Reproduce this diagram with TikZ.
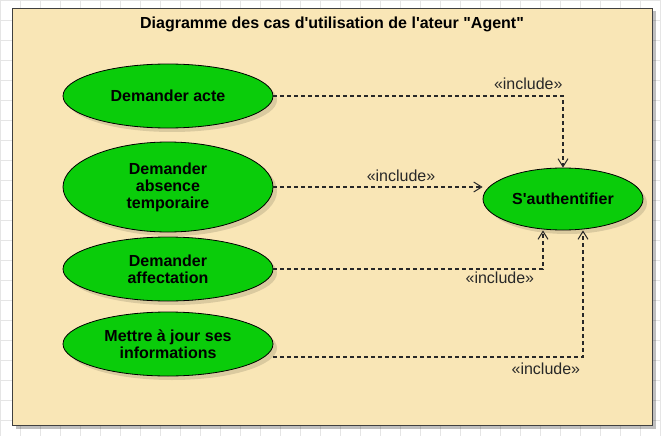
\documentclass[tikz,border=0pt]{standalone}
\usepackage{fontspec}
\setmainfont{Liberation Sans}[Ligatures=TeXOff]
\usetikzlibrary{arrows.meta,shadows,shapes.geometric}

\definecolor{cadre}{RGB}{249,230,182}
\definecolor{vert}{RGB}{10,204,10}
\definecolor{trait}{RGB}{40,40,40}

\begin{document}
\begin{tikzpicture}[x=1pt,y=-1pt,>={Straight Barb[length=8pt,width=10pt,line width=1pt]},thick,
    case/.style={ellipse,draw=black,fill=vert,minimum width=210pt,minimum height=64pt,inner sep=0pt,align=center,font=\bfseries\fontsize{16}{17}\selectfont,drop shadow={shadow xshift=4pt,shadow yshift=-4pt,fill=black,opacity=0.12}},
    include/.style={->,draw=trait,line width=1.3pt,dash pattern=on 4pt off 3pt},
    lbl/.style={font=\fontsize{16}{17}\selectfont,text=trait,inner sep=2pt}]
    \useasboundingbox (0,0) rectangle (661,436);
    \fill[white] (0,0) rectangle (661,436);
    \draw[black!10,line width=0.6pt,step=20pt] (0,0) grid (661,436);

    % cadre du diagramme
    \node (0) [draw=black!75,line width=1.6pt,fill=cadre,minimum width=640pt,minimum height=417pt,inner sep=0pt,drop shadow={shadow xshift=3pt,shadow yshift=-3pt,fill=black,opacity=0.25}] at (332.5,217){};
    \node (titre) at (332,24){\bfseries\fontsize{16}{17}\selectfont Diagramme des cas d'utilisation de l'ateur "Agent"};

    \node (1) [case,minimum width=160pt,minimum height=62pt] at (563,199){S'authentifier};

    \node (2) [case] at (168,96){Demander acte};
    \node (3) [case,minimum height=90pt] at (168,187){Demander\\absence\\temporaire};
    \node (4) [case] at (168,269){Demander\\affectation};
    \node (5) [case] at (168,344){Mettre à jour ses\\informations};

    \draw[include] (2) -| node[lbl,pos=0.44,above=4pt]{«include»} (1);
    \draw[include] (3.east) -- node[lbl,pos=0.61,above=3pt]{«include»} (1.west |- 3.east);
    \draw[include] (4) -| node[lbl,pos=0.42,below]{«include»} ([xshift=-20pt]1.south);
    \draw[include] ([yshift=-13pt]5.east) -| node[lbl,pos=0.44,below=3pt]{«include»} ([xshift=20pt]1.south);
\end{tikzpicture}
\end{document}
